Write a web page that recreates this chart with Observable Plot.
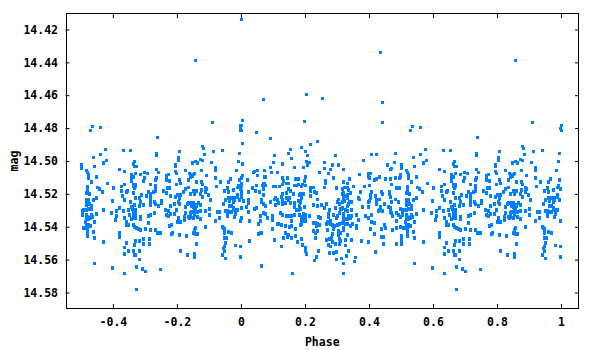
<!DOCTYPE html>
<html><head><meta charset="utf-8">
<script src="https://cdn.jsdelivr.net/npm/d3@7"></script>
<script src="https://cdn.jsdelivr.net/npm/@observablehq/plot@0.6"></script>
<style>html,body{margin:0;padding:0;background:#fff}svg{display:block}</style>
</head><body><div id="chart"></div>
<script>
// [phase, mag] observations; phases below 0 are also shown one cycle later
const outliers = [[-.143,14.4387],[-.471,14.481],[-.465,14.4787],[-.44,14.4793],[-.2615,14.4853],[-.09,14.4762],[-.001,14.4783],[-.003,14.4801],[-.001,14.4811],[.001,14.4138],[.4355,14.4338],[.07,14.4623],[.204,14.4593],[.254,14.4617],[.4416,14.4641],[.4416,14.4762],[.004,14.475],[.198,14.4756],[.048,14.4823],[.0916,14.4859],[.004,14.4889]];
const groupA = [[-.425,14.4928],[-.369,14.4934],[-.347,14.4934],[-.441,14.4958],[-.463,14.4974],[-.422,14.4992],[-.431,14.5010],[-.459,14.5029],[-.5,14.5022],[-.5,14.5041],[-.484,14.5053],[-.481,14.5065],[-.478,14.5077],[-.478,14.5089],[-.478,14.5101],[-.453,14.5095],[-.469,14.5125],[-.45,14.5158],[-.444,14.5168],[-.481,14.5150],[-.481,14.5162],[-.481,14.5186],[-.484,14.5192],[-.475,14.5198],[-.434,14.5186],[-.419,14.5132],[-.4,14.5162],[-.381,14.5047],[-.366,14.5059],[-.375,14.5150],[-.366,14.5138],[-.375,14.5180],[-.372,14.5210],[-.366,14.5235],[-.403,14.5241],[-.453,14.5222],[-.463,14.5235],[-.484,14.5235],[-.478,14.5235],[-.484,14.5253],[-.475,14.5259],[-.484,14.5265],[-.469,14.5271],[-.469,14.5289],[-.431,14.5295],[-.494,14.5295],[-.497,14.5301],[-.484,14.5295],[-.478,14.5289],[-.497,14.5325],[-.484,14.5325],[-.469,14.5325],[-.453,14.5319],[-.481,14.5338],[-.466,14.5338],[-.472,14.5344],[-.478,14.5350],[-.484,14.5350],[-.488,14.5368],[-.459,14.5368],[-.484,14.5386],[-.478,14.5386],[-.472,14.5392],[-.494,14.5404],[-.488,14.5404],[-.481,14.5404],[-.481,14.5428],[-.463,14.5428],[-.481,14.5453],[-.459,14.5465],[-.431,14.5489],[-.459,14.5622],[-.403,14.5647],[-.366,14.5683],[-.328,14.5780],[-.328,14.5641],[-.309,14.5653],[-.3,14.5671],[-.253,14.5659],[-.319,14.5598],[-.366,14.5562],[-.366,14.5525],[-.338,14.5544],[-.353,14.5544],[-.334,14.5568],[-.331,14.5568],[-.319,14.5544],[-.334,14.5507],[-.359,14.5495],[-.331,14.5483],[-.319,14.5483],[-.306,14.5471],[-.306,14.5501],[-.288,14.5471],[-.288,14.5501],[-.381,14.5435],[-.381,14.5459],[-.406,14.5313],[-.391,14.5301],[-.391,14.5332],[-.394,14.5356],[-.381,14.5283],[-.369,14.5301],[-.366,14.5344],[-.359,14.5368],[-.353,14.5295],[-.35,14.5325],[-.344,14.5350],[-.359,14.5386],[-.353,14.5386],[-.338,14.5386],[-.334,14.5398],[-.328,14.5404],[-.322,14.5410],[-.316,14.5416],[-.3,14.5410],[-.284,14.5416],[-.269,14.5416],[-.263,14.5435],[-.253,14.5435],[-.291,14.5374],[-.316,14.5338],[-.316,14.5350],[-.344,14.5277],[-.341,14.5289],[-.338,14.5295],[-.331,14.5295],[-.334,14.5307],[-.338,14.5319],[-.331,14.5319],[-.338,14.5344],[-.331,14.5344],[-.319,14.5271],[-.334,14.5265],[-.316,14.5247],[-.306,14.5265],[-.284,14.5265],[-.284,14.5325],[-.272,14.5313],[-.291,14.5332],[-.347,14.5247],[-.331,14.5222],[-.319,14.5222],[-.313,14.5204],[-.297,14.5210],[-.291,14.5186],[-.284,14.5198],[-.284,14.5222],[-.284,14.5241],[-.272,14.5247],[-.269,14.5259],[-.25,14.5241],[-.25,14.5253],[-.259,14.5271],[-.269,14.5180],[-.269,14.5162],[-.275,14.5186],[-.284,14.5138],[-.306,14.5119],[-.303,14.5101],[-.331,14.5071],[-.316,14.5077],[-.303,14.5065],[-.294,14.5071],[-.344,14.5077],[-.344,14.5101],[-.338,14.5095],[-.344,14.5119],[-.338,14.5138],[-.331,14.5138],[-.338,14.5150],[-.331,14.5150],[-.334,14.5162],[-.338,14.5192],[-.334,14.5029],[-.338,14.5016],[-.334,14.4998],[-.329,14.5029],[-.266,14.4950],[-.266,14.4962],[-.266,14.5047],[-.259,14.5065],[-.266,14.5101],[-.269,14.5113],[-.269,14.5144],[-.359,14.5186],[-.356,14.5180],[-.234,14.5089],[-.228,14.5077],[-.234,14.5113],[-.225,14.5119],[-.231,14.5162],[-.225,14.5162],[-.244,14.5180],[-.234,14.5192],[-.222,14.5210],[-.206,14.5022],[-.206,14.5029],[-.206,14.5059],[-.203,14.5071],[-.197,14.4974],[-.197,14.4992],[-.194,14.4938],[-.203,14.5138],[-.194,14.5113],[-.191,14.5132],[-.175,14.5053],[-.163,14.5071],[-.166,14.5113],[-.166,14.5156],[-.175,14.5168],[-.181,14.5186],[-.191,14.5204],[-.2,14.5204],[-.206,14.5216],[-.194,14.5222],[-.197,14.5247],[-.194,14.5259],[-.209,14.5259],[-.222,14.5271],[-.169,14.5259],[-.166,14.5253],[-.175,14.5277],[-.238,14.5295],[-.228,14.5301],[-.222,14.5319],[-.209,14.5319],[-.234,14.5325],[-.228,14.5332],[-.203,14.5295],[-.197,14.5344],[-.2,14.5368],[-.191,14.5368],[-.175,14.5313],[-.178,14.5338],[-.166,14.5338],[-.163,14.5344],[-.178,14.5356],[-.225,14.5392],[-.219,14.5386],[-.219,14.5441],[-.216,14.5435],[-.194,14.5447],[-.172,14.5453],[-.191,14.5544],[-.169,14.5568]];
const groupB = [[-.122,14.4907],[-.119,14.4919],[-.116,14.4956],[-.128,14.4986],[-.122,14.4992],[-.144,14.4998],[-.153,14.5010],[-.1375,14.5010],[-.0875,14.4938],[-.059,14.4932],[-.006,14.4950],[-.009,14.4998],[.003,14.5016],[-.094,14.5004],[-.081,14.5035],[-.081,14.5053],[-.125,14.5053],[-.109,14.5083],[-.147,14.5071],[-.156,14.5077],[-.15,14.5077],[-.153,14.5089],[-.159,14.5095],[-.081,14.5101],[-.141,14.5125],[-.125,14.5125],[-.122,14.5138],[-.066,14.5125],[-.078,14.5150],[-.034,14.5107],[-.041,14.5125],[-.016,14.5053],[.003,14.5083],[0,14.5101],[-.006,14.5113],[-.009,14.5144],[-.0125,14.5156],[0,14.5132],[0,14.5150],[-.003,14.5168],[.019,14.5113],[.0375,14.5065],[.041,14.5059],[.05,14.5053],[.072,14.5053],[.05,14.5083],[.072,14.5095],[.075,14.5095],[.047,14.5144],[.069,14.5132],[.072,14.5132],[.066,14.5144],[.075,14.5144],[.091,14.5035],[.1,14.5004],[.103,14.4962],[.128,14.5016],[.147,14.4950],[.153,14.4926],[.156,14.4980],[.166,14.5035],[.1125,14.5065],[.094,14.5065],[.128,14.5101],[.144,14.5101],[.131,14.5119],[.1,14.5150],[.106,14.5150],[.119,14.5150],[.141,14.5132],[.128,14.5138],[.147,14.5132],[.178,14.5107],[.169,14.5107],[.178,14.5138],[.166,14.5144],[.172,14.5144],[-.1125,14.5162],[-.125,14.5174],[-.109,14.5168],[-.1125,14.5186],[-.103,14.5204],[-.141,14.5180],[-.15,14.5180],[-.128,14.5198],[-.147,14.5198],[-.122,14.5216],[-.097,14.5235],[-.044,14.5162],[-.053,14.5180],[-.041,14.5186],[-.025,14.5174],[0,14.5180],[0,14.5198],[0,14.5216],[-.0125,14.5204],[-.0125,14.5216],[.022,14.5186],[.022,14.5235],[.034,14.5162],[.044,14.5180],[.056,14.5186],[.069,14.5168],[.069,14.5204],[-.022,14.5222],[-.031,14.5222],[-.041,14.5222],[-.0375,14.5241],[-.05,14.5235],[-.056,14.5259],[-.022,14.5235],[-.025,14.5247],[-.006,14.5235],[.006,14.5241],[.022,14.5253],[-.0375,14.5271],[-.031,14.5271],[-.025,14.5283],[.016,14.5277],[0,14.5283],[-.0125,14.5295],[-.022,14.5295],[-.044,14.5301],[-.0375,14.5307],[-.031,14.5307],[-.044,14.5319],[-.044,14.5332],[-.05,14.5301],[-.019,14.5319],[-.022,14.5338],[0,14.5344],[-.003,14.5362],[.025,14.5362],[.022,14.5307],[.041,14.5289],[.047,14.5283],[.0625,14.5229],[.0625,14.5247],[.069,14.5259],[.075,14.5271],[.091,14.5247],[.106,14.5222],[.1125,14.5235],[.116,14.5253],[.103,14.5229],[.128,14.5198],[.125,14.5216],[.128,14.5229],[.128,14.5247],[.128,14.5259],[.141,14.5192],[.147,14.5168],[.153,14.5180],[.141,14.5222],[.147,14.5235],[.15,14.5222],[.1375,14.5253],[.153,14.5253],[.1625,14.5198],[.166,14.5253],[.181,14.5204],[.178,14.5241],[.166,14.5277],[.181,14.5271],[.172,14.5295],[.178,14.5295],[.106,14.5265],[.069,14.5313],[.075,14.5319],[.059,14.5332],[.081,14.5344],[.059,14.5362],[.097,14.5332],[.097,14.5344],[.097,14.5356],[.122,14.5313],[.128,14.5325],[.141,14.5332],[.15,14.5332],[.156,14.5332],[.166,14.5325],[.181,14.5325],[.053,14.5380],[.1125,14.5380],[.116,14.5380],[.125,14.5386],[.097,14.5410],[.1375,14.5392],[.15,14.5398],[.156,14.5362],[.156,14.5392],[.169,14.5410],[.053,14.5441],[.059,14.5435],[.0625,14.5435],[.1375,14.5435],[.147,14.5447],[.131,14.5465],[.144,14.5459],[.156,14.5465],[.169,14.5453],[.175,14.5489],[.103,14.5477],[.125,14.5519],[.025,14.5483],[-.019,14.5513],[-.003,14.5519],[-.003,14.5580],[.0625,14.5635],[.159,14.5683],[-.159,14.5198],[-.144,14.5265],[-.15,14.5253],[-.134,14.5253],[-.156,14.5253],[-.156,14.5271],[-.15,14.5277],[-.141,14.5271],[-.128,14.5265],[-.144,14.5289],[-.156,14.5307],[-.147,14.5301],[-.1375,14.5307],[-.128,14.5301],[-.1125,14.5301],[-.159,14.5313],[-.147,14.5325],[-.1375,14.5338],[-.128,14.5350],[-.159,14.5338],[-.15,14.5344],[-.1,14.5289],[-.1,14.5325],[-.081,14.5362],[-.075,14.5307],[-.069,14.5307],[-.069,14.5344],[-.1125,14.5398],[-.059,14.5398],[-.053,14.5410],[-.056,14.5404],[-.053,14.5435],[-.041,14.5428],[-.031,14.5435],[-.144,14.5404],[-.147,14.5416],[-.15,14.5435],[-.144,14.5441],[-.1375,14.5441],[-.141,14.5501],[-.053,14.5465],[-.047,14.5465],[-.05,14.5495],[-.053,14.5519],[-.056,14.5531],[-.053,14.5544],[-.147,14.5562],[-.147,14.5580],[-.059,14.5568],[-.05,14.5592]];
const groupC = [[.187,14.4913],[.2,14.4938],[.216,14.4895],[.237,14.4877],[.206,14.4962],[.203,14.4998],[.212,14.5004],[.206,14.5022],[.194,14.5035],[.294,14.4962],[.259,14.5004],[.284,14.5022],[.303,14.5022],[.278,14.5047],[.259,14.5041],[.272,14.5071],[.244,14.5065],[.319,14.5047],[.369,14.5077],[.381,14.4992],[.406,14.4956],[.422,14.4956],[.397,14.5071],[.403,14.5071],[.4,14.5101],[.397,14.5095],[.416,14.5113],[.422,14.5107],[.431,14.5095],[.384,14.5150],[.4,14.5144],[.319,14.5125],[.337,14.5107],[.331,14.5132],[.35,14.5150],[.287,14.5101],[.262,14.5119],[.262,14.5132],[.259,14.5156],[.297,14.5162],[.2,14.5095],[.197,14.5119],[.2,14.5144],[.191,14.5138],[.187,14.5150],[.216,14.5162],[.225,14.5156],[.216,14.5180],[.228,14.5186],[.234,14.5192],[.216,14.5210],[.237,14.5229],[.225,14.5265],[.237,14.5271],[.25,14.5265],[.266,14.5259],[.259,14.5283],[.275,14.5295],[.272,14.5319],[.294,14.5283],[.303,14.5229],[.306,14.5259],[.316,14.5168],[.319,14.5192],[.322,14.5156],[.331,14.5156],[.334,14.5174],[.316,14.5198],[.325,14.5210],[.331,14.5204],[.341,14.5192],[.331,14.5222],[.319,14.5222],[.3,14.5247],[.316,14.5247],[.322,14.5241],[.337,14.5247],[.344,14.5247],[.309,14.5289],[.312,14.5289],[.316,14.5283],[.325,14.5295],[.334,14.5259],[.331,14.5271],[.344,14.5295],[.306,14.5313],[.3,14.5332],[.297,14.5344],[.272,14.5338],[.287,14.5325],[.319,14.5319],[.331,14.5301],[.319,14.5344],[.325,14.5350],[.331,14.5350],[.341,14.5344],[.334,14.5332],[.344,14.5332],[.359,14.5325],[.366,14.5356],[.278,14.5362],[.269,14.5368],[.266,14.5380],[.272,14.5374],[.278,14.5380],[.284,14.5386],[.291,14.5392],[.3,14.5386],[.306,14.5380],[.316,14.5374],[.331,14.5380],[.319,14.5368],[.325,14.5380],[.341,14.5392],[.347,14.5380],[.359,14.5392],[.359,14.5404],[.269,14.5416],[.287,14.5410],[.284,14.5441],[.281,14.5465],[.275,14.5471],[.266,14.5477],[.284,14.5489],[.272,14.5507],[.278,14.5519],[.303,14.5422],[.309,14.5435],[.319,14.5416],[.319,14.5404],[.303,14.5447],[.306,14.5471],[.309,14.5483],[.306,14.5501],[.294,14.5501],[.331,14.5447],[.325,14.5477],[.344,14.5477],[.375,14.5483],[.397,14.5489],[.325,14.5513],[.334,14.5544],[.275,14.5556],[.287,14.5556],[.297,14.5550],[.328,14.5574],[.356,14.5586],[.353,14.5610],[.312,14.5592],[.297,14.5598],[.319,14.5622],[.319,14.5683],[.234,14.5580],[.228,14.5604],[.241,14.5544],[.2,14.5525],[.2,14.5544],[.203,14.5562],[.191,14.5507],[.187,14.5471],[.231,14.5465],[.225,14.5422],[.237,14.5422],[.231,14.5435],[.225,14.5374],[.231,14.5374],[.237,14.5380],[.244,14.5386],[.234,14.5392],[.241,14.5338],[.247,14.5344],[.212,14.5332],[.194,14.5319],[.2,14.5325],[.187,14.5338],[.194,14.5344],[.2,14.5344],[.187,14.5362],[.194,14.5362],[.2,14.5362],[.187,14.5380],[.184,14.5386],[.372,14.5186],[.366,14.5222],[.369,14.5229],[.378,14.5277],[.397,14.5277],[.406,14.5325],[.387,14.5332],[.397,14.5344],[.406,14.5368],[.416,14.5374],[.403,14.5410],[.416,14.5441],[.419,14.5550],[.437,14.5459],[.444,14.5459],[.444,14.5501],[.406,14.5186],[.403,14.5204],[.403,14.5222],[.4,14.5241],[.397,14.5247],[.419,14.5210],[.422,14.5235],[.431,14.5229],[.447,14.5259],[.422,14.5259],[.437,14.5186],[.441,14.5198],[.462,14.5186],[.462,14.5198],[.466,14.5216],[.481,14.5229],[.491,14.5247],[.469,14.5247],[.459,14.5277],[.466,14.5283],[.466,14.5307],[.428,14.5301],[.434,14.5277],[.431,14.5295],[.441,14.5301],[.469,14.5313],[.484,14.5313],[.491,14.5325],[.497,14.5289],[.472,14.5332],[.484,14.5362],[.497,14.5338],[.447,14.5386],[.45,14.5404],[.437,14.5410],[.472,14.5416],[.484,14.5404],[.497,14.5398],[.484,14.5501],[.499,14.5501],[.499,14.5477],[.499,14.5453],[.45,14.5107],[.466,14.5107],[.469,14.5138],[.481,14.5101],[.494,14.5101],[.497,14.5077],[.497,14.5095],[.484,14.5162],[.494,14.5162],[.456,14.5022],[.466,14.5047],[.481,14.4950],[.478,14.5004],[.469,14.5041],[.184,14.5198],[.187,14.5222],[.194,14.5198],[.184,14.5247],[.197,14.5277],[.184,14.5289]];
const xTicks = [-0.4,-0.2,0,0.2,0.4,0.6,0.8,1];
const yTicks = [14.42,14.44,14.46,14.48,14.50,14.52,14.54,14.56,14.58];

const rows = [...outliers, ...groupA, ...groupB, ...groupC];
const points = [...rows, ...rows.filter(d => d[0] < 0).map(d => [d[0] + 1, d[1]])];
const font = {fontFamily: "'DejaVu Sans Mono', monospace", fontWeight: "bold", fontSize: 11.5};

const chart = Plot.plot({
  width: 600, height: 350,
  marginLeft: 65.5, marginRight: 22, marginTop: 13, marginBottom: 42,
  style: {background: "#fff", color: "#000", ...font},
  x: {type: "linear", domain: [-0.548, 1.053]},
  y: {type: "linear", domain: [14.41, 14.5894], reverse: true},
  marks: [
    Plot.dot(points, {x: d => d[0], y: d => d[1], symbol: "square", r: 1.85, fill: "#0080ff", stroke: "none", shapeRendering: "crispEdges"}),
    Plot.axisX(xTicks, {anchor: "bottom", tickSize: 0, tickPadding: 9, tickFormat: d => String(d), label: "Phase", labelAnchor: "center", labelArrow: "none", labelOffset: 37, ...font}),
    Plot.axisY(yTicks, {anchor: "left", tickSize: 0, tickPadding: 8, tickFormat: d3.format(".2f"), label: "mag", labelAnchor: "center", labelArrow: "none", labelOffset: 56, ...font}),
    Plot.axisX(xTicks, {anchor: "bottom", tickSize: -4, tickFormat: null, text: null, label: null, stroke: "#000"}),
    Plot.axisX(xTicks, {anchor: "top", tickSize: -4, tickFormat: null, text: null, label: null, stroke: "#000"}),
    Plot.axisY(yTicks, {anchor: "left", tickSize: -4, tickFormat: null, text: null, label: null, stroke: "#000"}),
    Plot.axisY(yTicks, {anchor: "right", tickSize: -4, tickFormat: null, text: null, label: null, stroke: "#000"}),
    Plot.frame({stroke: "#000", strokeWidth: 1, shapeRendering: "crispEdges"})
  ]
});
document.getElementById("chart").appendChild(chart);
</script>
</body></html>
